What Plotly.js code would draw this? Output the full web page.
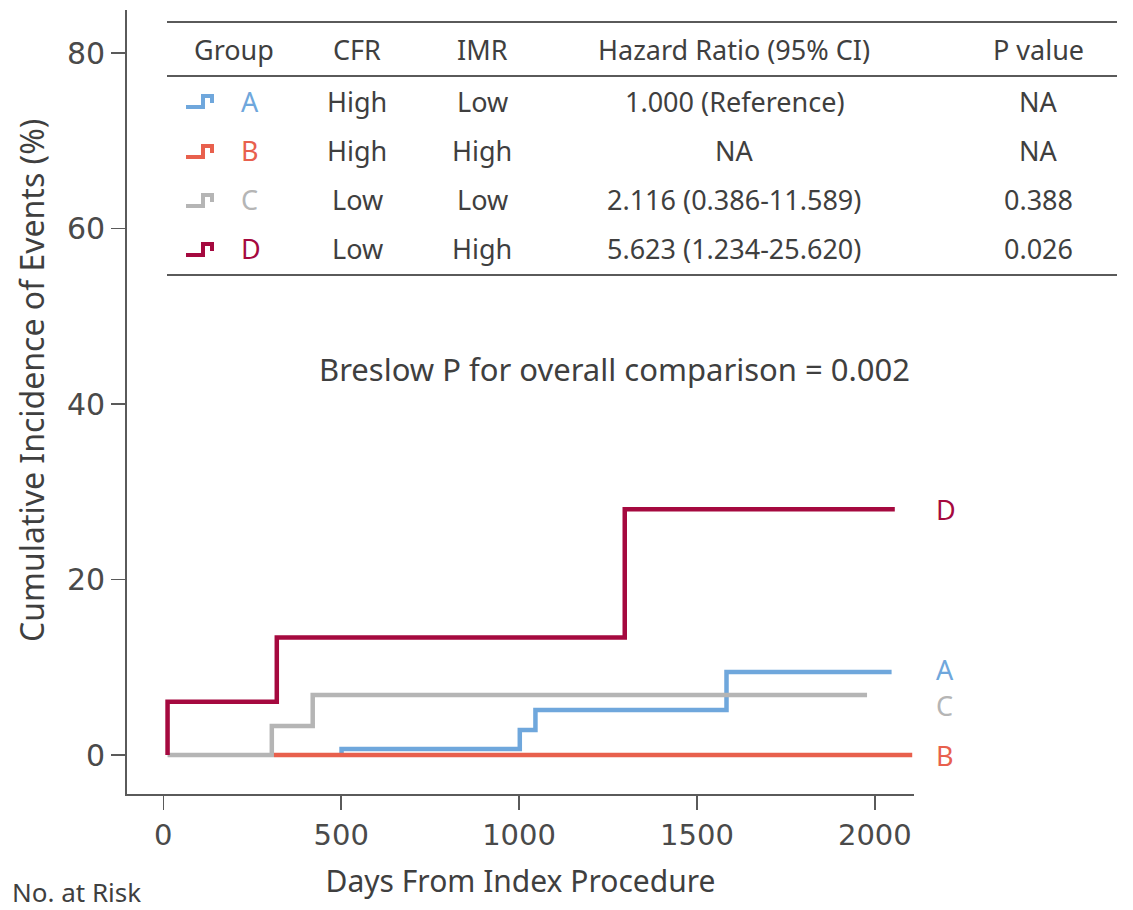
<!DOCTYPE html>
<html>
<head>
<meta charset="utf-8">
<script src="https://cdn.plot.ly/plotly-3.0.1.min.js"></script>
<style>
  html, body { margin: 0; padding: 0; background: #ffffff; }
  #chart { width: 1133px; height: 910px; }
</style>
</head>
<body>
<div id="chart"></div>
<script>
// Cumulative incidence step curves per group (days, %)
const groups = ["A", "B", "C", "D"];
const daysA = [501, 501, 1002, 1046, 1583, 2047];
const incA  = [0, 0.7, 2.85, 5.13, 9.46, 9.46];
const daysB = [311, 2105];
const incB  = [0, 0];
const daysC = [12, 305, 420, 1978];
const incC  = [0, 3.3, 6.84, 6.84];
const daysD = [12, 12, 319, 1297, 2056];
const incD  = [0, 6.07, 13.4, 28.0, 28.0];

// Summary table
const tableHeader = ["Group", "CFR", "IMR", "Hazard Ratio (95% CI)", "P value"];
const cfr = ["High", "High", "Low", "Low"];
const imr = ["Low", "High", "Low", "High"];
const hazardRatio = ["1.000 (Reference)", "NA", "2.116 (0.386-11.589)", "5.623 (1.234-25.620)"];
const pValue = ["NA", "NA", "0.388", "0.026"];
const overallText = "Breslow P for overall comparison = 0.002";

const xTicks = [0, 500, 1000, 1500, 2000];
const yTicks = [0, 20, 40, 60, 80];

const colors = { A: "#6fa7dc", B: "#e8604d", C: "#b5b5b5", D: "#a5093f" };
const textColor = "#3f3f3f";
const axisColor = "#5a5a5a";
const txtFont = "Noto Sans, Open Sans, sans-serif";
const numFont = "DejaVu Sans, Verdana, sans-serif";

// plot area in page pixels
const M = { l: 127, r: 219, t: 10, b: 116 };
const W = 1133 - M.l - M.r;
const H = 910 - M.t - M.b;
const px = X => (X - M.l) / W;
const py = Y => (910 - M.b - Y) / H;

const series = { A: [daysA, incA], B: [daysB, incB], C: [daysC, incC], D: [daysD, incD] };
const drawOrder = ["A", "C", "B", "D"];
const traces = drawOrder.map(g => ({
  type: "scatter",
  mode: "lines",
  name: g,
  x: series[g][0],
  y: series[g][1],
  line: { shape: "hv", color: colors[g], width: 4.5 },
  hoverinfo: "x+y+name",
  cliponaxis: false
}));

const annotations = [];
const shapes = [];

// table rules
[22, 76, 275].forEach(Y => shapes.push({
  type: "line", xref: "paper", yref: "paper",
  x0: px(167), x1: px(1117), y0: py(Y), y1: py(Y),
  line: { color: "#5a5a5a", width: 1.8 }
}));

const colX = [234, 357, 482, 734, 1038];
const headerY = 50;
const rowY = [101, 151, 200, 249];
const tableSize = 27;

tableHeader.forEach((h, i) => annotations.push({
  xref: "paper", yref: "paper", x: px(colX[i]), y: py(headerY),
  text: h, showarrow: false, xanchor: "center", yanchor: "middle",
  font: { family: txtFont, size: tableSize, color: textColor }
}));

groups.forEach((g, r) => {
  const Y = rowY[r];
  // step icon
  shapes.push({
    type: "path", xref: "paper", yref: "paper",
    path: `M ${px(186)} ${py(Y + 6)} L ${px(203)} ${py(Y + 6)} L ${px(203)} ${py(Y - 5)} L ${px(212)} ${py(Y - 5)} L ${px(212)} ${py(Y + 2)}`,
    line: { color: colors[g], width: 4 }
  });
  annotations.push({
    xref: "paper", yref: "paper", x: px(239), y: py(Y),
    text: g, showarrow: false, xanchor: "left", yanchor: "middle",
    font: { family: txtFont, size: tableSize, color: colors[g] }
  });
  [cfr[r], imr[r], hazardRatio[r], pValue[r]].forEach((t, c) => annotations.push({
    xref: "paper", yref: "paper", x: px(colX[c + 1]), y: py(Y),
    text: t, showarrow: false, xanchor: "center", yanchor: "middle",
    font: { family: txtFont, size: tableSize, color: textColor }
  }));
});

annotations.push({
  xref: "paper", yref: "paper", x: px(614), y: py(369),
  text: overallText, showarrow: false, xanchor: "center", yanchor: "middle",
  font: { family: txtFont, size: 31, color: textColor }
});

// y-axis title
annotations.push({
  xref: "paper", yref: "paper", x: px(31), y: py(381),
  text: "Cumulative Incidence of Events (%)", textangle: -90,
  showarrow: false, xanchor: "center", yanchor: "middle",
  font: { family: txtFont, size: 32, color: textColor }
});

// curve end labels
const endLabelShift = { A: 3, B: 0, C: -10, D: 0 };
groups.forEach(g => {
  const ys = series[g][1];
  annotations.push({
    xref: "paper", yref: "y", x: px(934), y: ys[ys.length - 1],
    yshift: endLabelShift[g],
    text: g, showarrow: false, xanchor: "left", yanchor: "middle",
    font: { family: txtFont, size: 27, color: colors[g] }
  });
});

annotations.push({
  xref: "paper", yref: "paper", x: px(10), y: py(892),
  text: "No. at Risk", showarrow: false, xanchor: "left", yanchor: "middle",
  font: { family: txtFont, size: 26, color: textColor }
});

const layout = {
  width: 1133, height: 910,
  margin: M,
  paper_bgcolor: "#ffffff", plot_bgcolor: "#ffffff",
  showlegend: false,
  xaxis: {
    range: [-102, 2110],
    tickvals: xTicks, ticktext: xTicks.map(String),
    ticks: "outside", ticklen: 14, tickwidth: 1.5, tickcolor: axisColor,
    showline: true, linecolor: axisColor, linewidth: 1.8,
    showgrid: false, zeroline: false,
    tickfont: { family: numFont, size: 29, color: "#4a4a4a" },
    title: { text: "Days From Index Procedure", standoff: 20,
             font: { family: txtFont, size: 30, color: textColor } }
  },
  yaxis: {
    range: [-4.44, 84.9],
    tickvals: yTicks, ticktext: yTicks.map(String),
    ticks: "outside", ticklen: 14, tickwidth: 1.5, tickcolor: axisColor,
    showline: true, linecolor: axisColor, linewidth: 1.8,
    showgrid: false, zeroline: false,
    tickfont: { family: numFont, size: 30, color: "#4a4a4a" }
  },
  shapes: shapes,
  annotations: annotations
};

Plotly.newPlot("chart", traces, layout, { displayModeBar: false, staticPlot: true });
</script>
</body>
</html>
